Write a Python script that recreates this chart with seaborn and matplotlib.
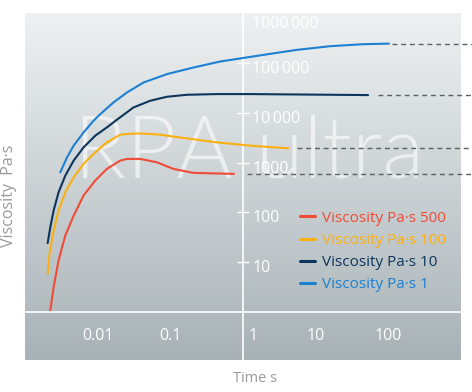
import numpy as np
import pandas as pd
import matplotlib
matplotlib.use("Agg")
import matplotlib.pyplot as plt
import matplotlib.transforms as mtransforms
from matplotlib import font_manager as fm
from matplotlib.colors import LinearSegmentedColormap
from matplotlib.ticker import FixedLocator, NullLocator
import seaborn as sns

# ---- data (time in s, viscosity in Pa.s) ----
t_500 = [0.00223, 0.00248, 0.0029, 0.00359, 0.00467, 0.0064, 0.00927, 0.0134,
         0.0204, 0.0253, 0.0385, 0.0653, 0.110, 0.207, 0.75]
v_500 = [1.1, 3.21, 11.0, 34.7, 85.9, 219, 437, 748,
         1096, 1186, 1186, 1014, 748, 622, 594]

t_100 = [0.00205, 0.00218, 0.00248, 0.0029, 0.00359, 0.00467, 0.0064, 0.00927,
         0.0134, 0.0204, 0.0253, 0.0385, 0.0724, 0.151, 0.435, 1.25, 4.19]
v_100 = [5.94, 14.9, 43.7, 110, 255, 508, 942, 1607,
         2547, 3631, 3750, 3855, 3631, 3119, 2547, 2188, 1932]

t_10 = [0.00205, 0.00223, 0.00248, 0.0029, 0.00359, 0.00467, 0.0064, 0.00927,
        0.0134, 0.0184, 0.0311, 0.0528, 0.0895, 0.169, 0.435, 1.25, 52.6]
v_10 = [24.3, 50.8, 110, 255, 550, 1096, 2023, 3467,
        5082, 7244, 12760, 17380, 20890, 22910, 23660, 23660, 22590]

t_1 = [0.00306, 0.00379, 0.00467, 0.0064, 0.00879, 0.0109, 0.0165, 0.0253,
       0.0427, 0.0895, 0.207, 0.483, 1.90, 5.47, 15.7, 44.9, 102]
v_1 = [640, 1276, 2188, 4036, 6918, 9419, 16070, 25470,
       40360, 59430, 80540, 106200, 144500, 182000, 215800, 236600, 243200]

series = ["Viscosity Pa·s 500", "Viscosity Pa·s 100", "Viscosity Pa·s 10", "Viscosity Pa·s 1"]
colors = ["#f04b37", "#fbb012", "#0d355b", "#1c80d3"]
dash_start = [1.14, 5.5, 71.5, 111]
dash_end = 1400

y_ticks = [10, 100, 1000, 10000, 100000, 1000000]
y_tick_labels = ["10", "100", "1000", "10\u2009000", "100\u2009000", "1000\u2009000"]
x_ticks = [0.01, 0.1, 1, 10, 100]
x_tick_labels = ["0.01", "0.1", "1", "10", "100"]

times = [t_500, t_100, t_10, t_1]
visc = [v_500, v_100, v_10, v_1]
df = pd.concat([pd.DataFrame({"time": t, "viscosity": v, "series": s})
                for t, v, s in zip(times, visc, series)], ignore_index=True)

sns.set_style("white")
plt.rcParams["font.family"] = ["Open Sans", "DejaVu Sans"]


def light_font(size):
    # look for an installed light weight for the watermark
    for name in ["Lato", "Open Sans", "Roboto", "Inter", "Noto Sans"]:
        for f in fm.fontManager.ttflist:
            w = f.weight if isinstance(f.weight, int) else {"light": 300, "extra light": 200,
                                                               "ultralight": 200}.get(str(f.weight).lower(), 400)
            if f.name == name and w in (200, 300) and f.style == "normal":
                return fm.FontProperties(fname=f.fname, size=size)
    return fm.FontProperties(family="Lato", weight="light", size=size)


fig = plt.figure(figsize=(4.72, 3.92), dpi=100)
pos = [25 / 472, 32 / 392, 436 / 472, 347 / 392]

# gradient background
bg = fig.add_axes(pos, zorder=-1)
cmap = LinearSegmentedColormap.from_list("bg", ["#eef1f2", "#a8b2b6"])
bg.imshow(np.linspace(0, 1, 256).reshape(-1, 1), aspect="auto", cmap=cmap,
          extent=[0, 1, 0, 1])
bg.set_axis_off()

ax = fig.add_axes(pos)
ax.set_facecolor("none")

ax.text(0.113, 0.524, "RPA ultra", transform=ax.transAxes, fontproperties=light_font(62),
        color="white", alpha=0.6, va="baseline", ha="left", zorder=1)

sns.lineplot(data=df, x="time", y="viscosity", hue="series", hue_order=series,
             palette=colors, estimator=None, linewidth=1.5, ax=ax, zorder=3)

for t, v, x0 in zip(times, visc, dash_start):
    ax.plot([x0, dash_end], [v[-1], v[-1]], color="#5b6064", lw=1.0,
            dashes=(3.5, 2.8), clip_on=False, zorder=2)

ax.set_xscale("log")
ax.set_yscale("log")
ax.set_xlim(1e-3, 1e3)
ax.set_ylim(0.11, 1e6)

for side in ["top", "left"]:
    ax.spines[side].set_visible(False)
ax.spines["right"].set_position(("data", 1))
ax.spines["bottom"].set_position(("data", 1))
for side in ["right", "bottom"]:
    ax.spines[side].set_color("white")
    ax.spines[side].set_linewidth(1.2)

ax.yaxis.tick_right()
ax.xaxis.set_major_locator(FixedLocator(x_ticks))
ax.yaxis.set_major_locator(FixedLocator(y_ticks))
ax.xaxis.set_minor_locator(NullLocator())
ax.yaxis.set_minor_locator(NullLocator())
ax.set_xticklabels(x_tick_labels)
ax.set_yticklabels(y_tick_labels)
ax.tick_params(axis="both", direction="inout", length=8.6, width=1.0,
               colors="white", labelsize=11.5)
ax.tick_params(axis="y", pad=2.5)
ax.tick_params(axis="x", pad=7)
ax.set_xlabel("")
ax.set_ylabel("")

ax.text(-0.036, 0.473, "Viscosity  Pa·s", transform=ax.transAxes, rotation=90,
        ha="center", va="center", color="#9a9a9a", fontsize=11.5)
ax.text(0.528, -0.052, "Time s", transform=ax.transAxes,
        ha="center", va="center", color="#9a9a9a", fontsize=10.5)

handles, labels = ax.get_legend_handles_labels()
leg = ax.legend(handles, labels, loc="upper left", bbox_to_anchor=(0.63, 0.43),
                frameon=False, fontsize=11, handlelength=1.0, handletextpad=0.45,
                labelspacing=0.47, borderaxespad=0, borderpad=0)
for text, line in zip(leg.get_texts(), leg.get_lines()):
    text.set_color(line.get_color())
    line.set_linewidth(2.2)

fig.canvas.draw()
down = mtransforms.ScaledTranslation(0, -4 / 100, fig.dpi_scale_trans)
for lab in ax.get_yticklabels():
    lab.set_transform(lab.get_transform() + down)
ytk = ax.yaxis.get_major_ticks()
ytk[-1].tick2line.set_visible(False)
ytk[-1].label2.set_transform(ytk[-1].label2.get_transform()
                             + mtransforms.ScaledTranslation(0, -5 / 100, fig.dpi_scale_trans))
xtk = ax.xaxis.get_major_ticks()
xtk[2].tick1line.set_visible(False)
xtk[2].label1.set_transform(xtk[2].label1.get_transform()
                            + mtransforms.ScaledTranslation(10 / 100, 0, fig.dpi_scale_trans))

fig.savefig("out.png", dpi=100, facecolor="white")
